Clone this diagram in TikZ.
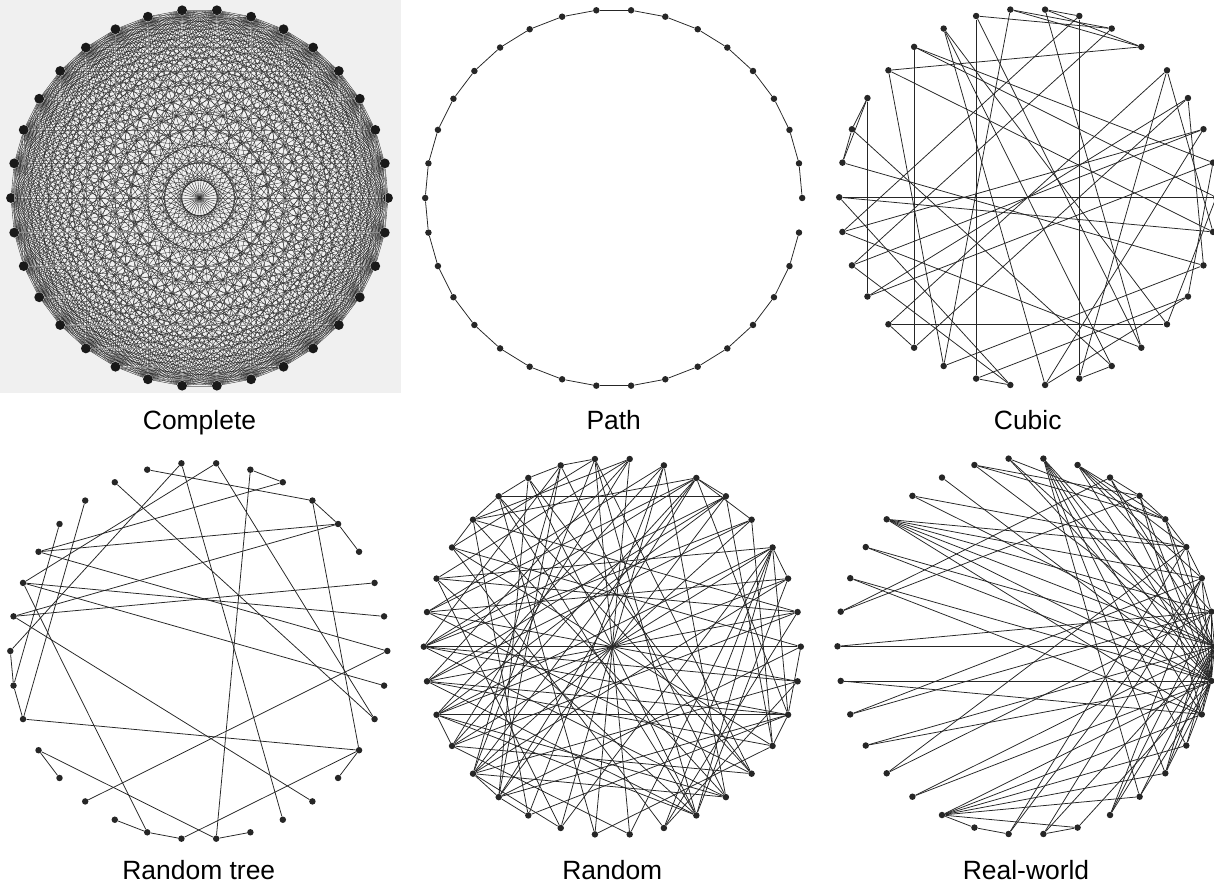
\documentclass[tikz,border=0pt]{standalone}
\usepackage{fontspec}
\setmainfont{Liberation Sans}
\usetikzlibrary{positioning}
\tikzstyle{vertex}=[circle,fill=black!85,draw=none,inner sep=0pt,minimum size=4.6pt]
\tikzstyle{bigvertex}=[circle,fill=black!90,draw=none,inner sep=0pt,minimum size=7pt]
\tikzstyle{caption}=[font=\fontsize{18.8}{22}\selectfont,anchor=base,inner sep=0pt]

\begin{document}
\begin{tikzpicture}[x=0.025cm,y=0.025cm,
  link/.style={draw=black!85,line width=0.55pt},
  fulllink/.style={draw=black!85,line width=0.25pt},
  axislink/.style={draw=black!45,line width=0.25pt}]
\useasboundingbox (0,0) rectangle (1214,892);
\fill[black!6] (0,499) rectangle (401,892);

% complete graph
\begin{scope}[shift={(199.5,694)}]
\foreach \i in {0,...,33}
  \node[bigvertex] (cmp\i) at (\i*360/34:188.5) {};
\foreach \i in {1,...,33}{
  \pgfmathtruncatemacro\prev{\i-1}
  \foreach \j in {0,...,\prev}{
    \pgfmathtruncatemacro\axis{mod(\i+\j,17)}
    \ifnum\axis=0
      \draw[axislink] (cmp\i) -- (cmp\j);
    \else
      \draw[fulllink] (cmp\i) -- (cmp\j);
    \fi
  }
}
\end{scope}

% path
\begin{scope}[shift={(613.7,694)}]
\foreach \i in {0,...,33}
  \node[vertex] (pth\i) at (\i*360/34:188.5) {};
\foreach \i [count=\n from 1] in {0,...,32}
  \draw[link] (pth\i) -- (pth\n);
\end{scope}

% cubic
\begin{scope}[shift={(1027.7,694.7)}]
\foreach \i in {0,...,33}
  \node[vertex] (cub\i) at (\i*360/34:188.5) {};
\foreach \a/\b in {10/24,7/27,12/22,14/20,17/0,21/30,8/7,10/6,13/5,14/15,
    14/16,15/16,16/32,17/33,17/25,18/7,15/28,9/6,9/23,9/5,8/5,8/29,19/6,
    10/29,11/28,11/26,12/1,13/23,13/33,19/2,20/3,19/25,21/22,21/4,22/3,
    24/31,24/25,26/2,27/28,27/4,3/32,4/33,1/31,2/18,18/29,0/12,0/30,1/20,
    11/30,23/32,26/31}
  \draw[link] (cub\a) -- (cub\b);
\end{scope}

% random tree
\begin{scope}[shift={(198.8,241)}]
\foreach \i in {0,...,33}
  \node[vertex] (tre\i) at (\i*360/34:188.5) {};
\foreach \a/\b in {3/4,4/5,5/31,30/31,25/31,24/25,23/24,19/31,18/19,17/18,
    12/19,13/18,20/21,20/26,26/27,7/26,6/7,6/14,14/0,0/22,14/4,16/2,16/29,
    16/4,15/1,15/33,15/24,11/32,8/32,8/15,9/28,9/17,10/5}
  \draw[link] (tre\a) -- (tre\b);
\end{scope}

% random
\begin{scope}[shift={(612.3,245.3)}]
\foreach \i in {0,...,33}
  \node[vertex] (rnd\i) at (\i*360/34:188.5) {};
\foreach \a/\b in {0/17,3/20,8/25,9/26,11/28,7/24,16/33,14/31,
    12/5,9/10,10/11,11/12,12/13,13/14,
    6/5,6/4,6/16,6/17,6/20,6/21,6/22,6/32,6/13,
    3/2,3/32,3/26,3/27,3/28,3/24,3/15,3/19,
    17/5,17/4,17/33,17/29,17/10,17/32,
    18/5,18/4,18/32,18/31,18/1,18/8,18/28,
    32/19,32/22,32/23,28/9,28/12,28/19,28/2,28/15,
    16/2,16/7,16/30,15/8,15/24,15/1,14/9,14/27,14/0,
    13/1,13/29,13/23,12/30,12/25,11/22,11/30,10/22,10/29,10/21,
    9/30,9/21,8/20,8/13,7/19,7/23,7/29,5/31,5/19,5/22,4/31,4/21,
    2/19,2/21,1/20,1/27,0/22,0/32,33/21,33/27,
    31/25,29/19,29/21,26/20,24/21,20/30,21/22,22/23,19/20,31/32}
  \draw[link] (rnd\a) -- (rnd\b);
\end{scope}

% real-world
\begin{scope}[shift={(1026,245.7)}]
\foreach \i in {0,...,33}
  \node[vertex] (rw\i) at (\i*360/34:188.5) {};
\foreach \a/\b in {17/0,17/1,18/33,18/32,16/6,16/5,15/33,15/32,14/0,14/33,
    13/3,13/2,13/1,13/0,13/33,13/32,12/3,12/0,11/33,10/5,10/4,10/0,
    9/4,9/0,9/33,8/29,8/30,8/31,8/33,8/0,8/32,7/4,7/3,7/2,7/1,7/33,
    6/5,6/0,6/33,5/4,5/33,5/32,4/3,4/0,4/33,3/2,3/33,2/1,2/33,1/0,1/33,
    19/2,19/1,20/33,20/0,21/3,21/1,22/33,22/0,
    23/29,23/30,23/31,23/32,23/33,23/27,23/24,
    24/25,25/3,25/2,26/27,26/2,26/0,27/33,28/2,28/1,28/0,29/33,29/0,
    30/0,30/33,30/1,31/33,31/0,32/33,32/0,33/0}
  \draw[link] (rw\a) -- (rw\b);
\end{scope}

% captions
\node[caption] (capcmp) at (199.5,462) {Complete};
\node[caption] (cappth) at (613.7,462) {Path};
\node[caption] (capcub) at (1027.7,462) {Cubic};
\node[caption] (captre) at (198.8,12) {Random tree};
\node[caption] (caprnd) at (612.3,12) {Random};
\node[caption] (caprw) at (1026,12) {Real-world};
\end{tikzpicture}
\end{document}
